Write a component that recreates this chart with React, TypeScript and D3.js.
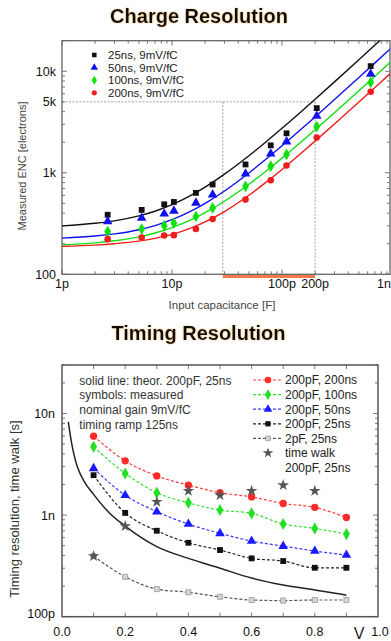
import { useEffect, useRef } from "react"
import * as d3 from "d3"

const FONT = "'Liberation Sans', Arial, Helvetica, sans-serif"

// ---------- Charge resolution ----------
// measured points, capacitance in pF, ENC in electrons
const capMeasured = [2.6, 5.3, 8.5, 10.4, 16.5, 23.4, 46.6, 79, 110, 207, 640]
const enc25ns = [386, 431, 489, 516, 634, 766, 1208, 1862, 2448, 4335, 11230]
const enc50ns = [332, 358, 395, 421, 505, 609, 977, 1542, 2028, 3630, 9400]
const enc100ns = [264, 279, 301, 320, 372, 450, 736, 1162, 1517, 2851, 7780]
const enc200ns = [222, 230, 241, 243, 279, 351, 544, 845, 1180, 2223, 6280]

// fitted curves
const capFit = [1, 2, 3, 5, 7, 10, 15, 20, 30, 50, 70, 100, 150, 200, 300, 500, 700, 1000]
const fit25ns = [300, 318, 336, 376, 418, 485, 602, 722, 969, 1472, 1979, 2744, 4021, 5300, 7859, 12979, 18099, 25780]
const fit50ns = [227, 238, 250, 275, 302, 345, 421, 500, 662, 996, 1334, 1844, 2696, 3550, 5259, 8678, 12098, 17229]
const fit100ns = [195, 204, 214, 234, 255, 288, 345, 404, 524, 770, 1019, 1394, 2022, 2650, 3908, 6425, 8943, 12719]
const fit200ns = [189, 194, 200, 212, 226, 247, 286, 328, 415, 600, 790, 1079, 1564, 2050, 3025, 4976, 6929, 9859]

const chargeLabels = ["25ns, 9mV/fC", "50ns, 9mV/fC", "100ns, 9mV/fC", "200ns, 9mV/fC"]
const encTicks = [100, 1000, 5000, 10000]
const encTickLabels = ["100", "1k", "5k", "10k"]
const capTicks = [1, 10, 100, 200, 1000]
const capTickLabels = ["1p", "10p", "100p", "200p", "1n"]
const refEnc = 5000
const refCap = [29, 200]

// ---------- Timing resolution ----------
// amplitude in V, time in ns
const amplitude = [0.1, 0.2, 0.3, 0.4, 0.5, 0.6, 0.7, 0.8, 0.9]
const t200pF200ns = [5.98, 3.42, 2.43, 1.97, 1.66, 1.51, 1.3, 1.19, 0.949]
const t200pF100ns = [4.7, 2.57, 1.66, 1.32, 1.12, 1.04, 0.816, 0.74, 0.65]
const t200pF50ns = [2.88, 1.57, 1.08, 0.816, 0.661, 0.555, 0.495, 0.443, 0.404]
const t200pF25ns = [2.47, 1.05, 0.701, 0.534, 0.453, 0.375, 0.353, 0.303, 0.303]
const t2pF25ns = [0.395, 0.247, 0.187, 0.174, 0.157, 0.146, 0.144, 0.146, 0.146]
const walkAmplitude = [0.1, 0.2, 0.3, 0.4, 0.5, 0.6, 0.7, 0.8]
const timeWalk = [0.395, 0.78, 1.35, 1.73, 1.57, 1.73, 1.97, 1.73]
const theoryAmplitude = [0.02, 0.03, 0.04, 0.05, 0.07, 0.1, 0.15, 0.2, 0.3, 0.4, 0.5, 0.6, 0.7, 0.8, 0.9]
const theory = [8.27, 5.2, 3.7, 2.9, 2.15, 1.6, 1.05, 0.78, 0.49, 0.375, 0.3, 0.24, 0.205, 0.183, 0.163]

const timingLabels = ["200pF, 200ns", "200pF, 100ns", "200pF, 50ns", "200pF, 25ns", "2pF, 25ns"]
const notes = ["solid line: theor. 200pF, 25ns", "symbols: measured", "nominal gain 9mV/fC", "timing ramp 125ns"]
const ampTicks = [0, 0.2, 0.4, 0.6, 0.8, 1.0]
const ampTickLabels = ["0.0", "0.2", "0.4", "0.6", "0.8", "1.0"]
const timeTicks = [0.1, 1, 10]
const timeTickLabels = ["100p", "1n", "10n"]

const isDecade = (v: number) => Math.abs(Math.log10(v) - Math.round(Math.log10(v))) < 1e-6

const App = () => {
  const svgRef = useRef<SVGSVGElement>(null)

  useEffect(() => {
    const svg = d3.select(svgRef.current)
    svg.selectAll("*").remove()

    const defs = svg.append("defs")
    const glow = defs.append("filter").attr("id", "glow").attr("x", "-5%").attr("y", "-20%").attr("width", "110%").attr("height", "140%")
    glow.append("feDropShadow").attr("dx", 0).attr("dy", 0).attr("stdDeviation", 1).attr("flood-color", "#e0a040").attr("flood-opacity", 0.7)

    // ================= top chart =================
    const x1 = d3.scaleLog().domain([1, 1000]).range([62, 392])
    const y1 = d3.scaleLog().domain([100, 20000]).range([274.3, 40.7])
    const top = { l: 62, r: 390, t: 40.7, b: 274.3 }

    defs.append("clipPath").attr("id", "clipTop").append("rect")
      .attr("x", top.l).attr("y", top.t).attr("width", top.r - top.l).attr("height", top.b - top.t)

    svg.append("text").attr("x", 199).attr("y", 23).attr("text-anchor", "middle")
      .style("font-family", FONT).style("font-weight", "bold").style("font-size", "20px")
      .attr("fill", "#111").attr("filter", "url(#glow)").text("Charge Resolution")

    const g1 = svg.append("g")

    // reference guides
    g1.append("line").attr("x1", top.l).attr("x2", x1(refCap[1])).attr("y1", y1(refEnc)).attr("y2", y1(refEnc))
      .attr("stroke", "#888").attr("stroke-width", 0.8).attr("stroke-dasharray", "2,1.5")
    refCap.forEach((c) => {
      g1.append("line").attr("x1", x1(c)).attr("x2", x1(c)).attr("y1", y1(refEnc)).attr("y2", top.b)
        .attr("stroke", "#888").attr("stroke-width", 0.8).attr("stroke-dasharray", "2,1.5")
    })
    g1.append("line").attr("x1", x1(refCap[0])).attr("x2", x1(refCap[1])).attr("y1", top.b + 2.2).attr("y2", top.b + 2.2)
      .attr("stroke", "#f07a48").attr("stroke-width", 3)

    // ticks
    y1.ticks().forEach((v) => {
      const len = isDecade(v) ? 5 : 3
      const y = y1(v)
      g1.append("line").attr("x1", top.l).attr("x2", top.l + len).attr("y1", y).attr("y2", y).attr("stroke", "#555").attr("stroke-width", 0.8)
      g1.append("line").attr("x1", top.r).attr("x2", top.r - len).attr("y1", y).attr("y2", y).attr("stroke", "#555").attr("stroke-width", 0.8)
    })
    x1.ticks().forEach((v) => {
      const len = isDecade(v) ? 5 : 3
      const x = x1(v)
      if (x > top.r) return
      g1.append("line").attr("x1", x).attr("x2", x).attr("y1", top.b).attr("y2", top.b - len).attr("stroke", "#555").attr("stroke-width", 0.8)
      g1.append("line").attr("x1", x).attr("x2", x).attr("y1", top.t).attr("y2", top.t + len).attr("stroke", "#555").attr("stroke-width", 0.8)
    })

    g1.append("rect").attr("x", top.l).attr("y", top.t).attr("width", top.r - top.l).attr("height", top.b - top.t)
      .attr("fill", "none").attr("stroke", "#666").attr("stroke-width", 1.3)

    const chargeSeries = [
      { color: "#111111", symbol: d3.symbolSquare, size: 34, values: enc25ns, fit: fit25ns },
      { color: "#1010f0", symbol: d3.symbolTriangle, size: 40, values: enc50ns, fit: fit50ns },
      { color: "#10e010", symbol: d3.symbolDiamond, size: 40, values: enc100ns, fit: fit100ns },
      { color: "#f01c1c", symbol: d3.symbolCircle, size: 34, values: enc200ns, fit: fit200ns },
    ]

    const fitLine = d3.line<number>().x((d, i) => x1(capFit[i])).y((d) => y1(d)).curve(d3.curveMonotoneX)
    const curves = g1.append("g").attr("clip-path", "url(#clipTop)")
    chargeSeries.forEach((s) => {
      curves.append("path").attr("d", fitLine(s.fit)).attr("fill", "none").attr("stroke", s.color).attr("stroke-width", 1.4)
    })
    chargeSeries.forEach((s) => {
      g1.append("g").selectAll("path").data(s.values).enter().append("path")
        .attr("transform", (d, i) => `translate(${x1(capMeasured[i])},${y1(d)})`)
        .attr("d", d3.symbol().type(s.symbol).size(s.size)())
        .attr("fill", s.color)
    })

    // legend
    chargeSeries.forEach((s, i) => {
      const y = 55 + i * 12.6
      g1.append("path").attr("transform", `translate(94.3,${y})`).attr("d", d3.symbol().type(s.symbol).size(s.size * 0.6)()).attr("fill", s.color)
      g1.append("text").attr("x", 108).attr("y", y + 4).style("font-family", FONT).style("font-size", "11.5px").attr("fill", "#222").text(chargeLabels[i])
    })

    // tick labels
    encTicks.forEach((v, i) => {
      g1.append("text").attr("x", 56).attr("y", y1(v) + 4.5).attr("text-anchor", "end")
        .style("font-family", FONT).style("font-size", "12.5px").attr("fill", "#111").text(encTickLabels[i])
    })
    capTicks.forEach((v, i) => {
      const last = i === capTicks.length - 1
      g1.append("text").attr("x", last ? 391 : x1(v)).attr("y", 288).attr("text-anchor", last ? "end" : "middle")
        .style("font-family", FONT).style("font-size", "12.5px").attr("fill", "#111").text(capTickLabels[i])
    })
    g1.append("text").attr("x", 222).attr("y", 309).attr("text-anchor", "middle")
      .style("font-family", FONT).style("font-size", "11.5px").attr("fill", "#444").text("Input capacitance [F]")
    g1.append("text").attr("transform", "translate(26,166) rotate(-90)").attr("text-anchor", "middle")
      .style("font-family", FONT).style("font-size", "11px").attr("fill", "#444").text("Measured ENC [electrons]")

    // ================= bottom chart =================
    const x2 = d3.scaleLinear().domain([0, 1]).range([62, 378])
    const y2 = d3.scaleLog().domain([0.1, 30]).range([616.7, 365])
    const bot = { l: 62, r: 378, t: 365, b: 616.7 }

    svg.append("text").attr("x", 198.5).attr("y", 339.5).attr("text-anchor", "middle")
      .style("font-family", FONT).style("font-weight", "bold").style("font-size", "20px")
      .attr("fill", "#111").attr("filter", "url(#glow)").text("Timing Resolution")

    const g2 = svg.append("g")

    y2.ticks().forEach((v) => {
      const len = isDecade(v) ? 5 : 3
      const y = y2(v)
      g2.append("line").attr("x1", bot.l).attr("x2", bot.l + len).attr("y1", y).attr("y2", y).attr("stroke", "#555").attr("stroke-width", 0.8)
      g2.append("line").attr("x1", bot.r).attr("x2", bot.r - len).attr("y1", y).attr("y2", y).attr("stroke", "#555").attr("stroke-width", 0.8)
    })
    d3.range(1, 10).forEach((k) => {
      const x = x2(k / 10)
      g2.append("line").attr("x1", x).attr("x2", x).attr("y1", bot.b).attr("y2", bot.b - 4).attr("stroke", "#555").attr("stroke-width", 0.8)
      g2.append("line").attr("x1", x).attr("x2", x).attr("y1", bot.t).attr("y2", bot.t + 4).attr("stroke", "#555").attr("stroke-width", 0.8)
    })

    g2.append("rect").attr("x", bot.l).attr("y", bot.t).attr("width", bot.r - bot.l).attr("height", bot.b - bot.t)
      .attr("fill", "none").attr("stroke", "#555").attr("stroke-width", 1.5)

    // theory curve
    const theoryLine = d3.line<number>().x((d, i) => x2(theoryAmplitude[i])).y((d) => y2(d)).curve(d3.curveMonotoneX)
    g2.append("path").attr("d", theoryLine(theory)).attr("fill", "none").attr("stroke", "#222").attr("stroke-width", 1.5)

    const timingSeries = [
      { color: "#ff2a2a", line: "#ff3b3b", symbol: d3.symbolCircle, size: 42, stroke: "none", values: t200pF200ns },
      { color: "#22e022", line: "#33e033", symbol: d3.symbolDiamond, size: 42, stroke: "none", values: t200pF100ns },
      { color: "#1a1aff", line: "#3a3aff", symbol: d3.symbolTriangle, size: 40, stroke: "none", values: t200pF50ns },
      { color: "#111111", line: "#222222", symbol: d3.symbolSquare, size: 34, stroke: "none", values: t200pF25ns },
      { color: "#d4d4d4", line: "#555555", symbol: d3.symbolSquare, size: 26, stroke: "#999", values: t2pF25ns },
    ]

    const measLine = d3.line<number>().x((d, i) => x2(amplitude[i])).y((d) => y2(d)).curve(d3.curveMonotoneX)
    timingSeries.forEach((s) => {
      g2.append("path").attr("d", measLine(s.values)).attr("fill", "none").attr("stroke", s.line)
        .attr("stroke-width", 1.2).attr("stroke-dasharray", "3,2")
    })
    timingSeries.forEach((s) => {
      g2.append("g").selectAll("path").data(s.values).enter().append("path")
        .attr("transform", (d, i) => `translate(${x2(amplitude[i])},${y2(d)})`)
        .attr("d", d3.symbol().type(s.symbol).size(s.size)())
        .attr("fill", s.color).attr("stroke", s.stroke).attr("stroke-width", 0.8)
    })
    g2.append("g").selectAll("path").data(timeWalk).enter().append("path")
      .attr("transform", (d, i) => `translate(${x2(walkAmplitude[i])},${y2(d)})`)
      .attr("d", d3.symbol().type(d3.symbolStar).size(42)())
      .attr("fill", "#555")

    // notes
    notes.forEach((t, i) => {
      g2.append("text").attr("x", 79.3).attr("y", 384.5 + i * 14.8).style("font-family", FONT).style("font-size", "12px")
        .attr("fill", "#333").text(t)
    })

    // legend
    timingSeries.forEach((s, i) => {
      const y = 380 + i * 14.6
      g2.append("line").attr("x1", 253).attr("x2", 283).attr("y1", y).attr("y2", y).attr("stroke", s.line)
        .attr("stroke-width", 1.2).attr("stroke-dasharray", "3,2")
      g2.append("path").attr("transform", `translate(268,${y})`).attr("d", d3.symbol().type(s.symbol).size(s.size * 0.8)())
        .attr("fill", s.color).attr("stroke", s.stroke).attr("stroke-width", 0.8)
      g2.append("text").attr("x", 285).attr("y", y + 4.3).style("font-family", FONT).style("font-size", "12px")
        .attr("fill", "#222").text(timingLabels[i])
    })
    g2.append("path").attr("transform", `translate(268,${380 + 5 * 14.6})`).attr("d", d3.symbol().type(d3.symbolStar).size(34)()).attr("fill", "#555")
    g2.append("text").attr("x", 285).attr("y", 380 + 5 * 14.6 + 4.3).style("font-family", FONT).style("font-size", "12px").attr("fill", "#222").text("time walk")
    g2.append("text").attr("x", 285).attr("y", 380 + 6 * 14.6 + 4.3).style("font-family", FONT).style("font-size", "12px").attr("fill", "#222").text("200pF, 25ns")

    // tick labels
    timeTicks.forEach((v, i) => {
      g2.append("text").attr("x", 55).attr("y", y2(v) + 4.5 - (i === 0 ? 3 : 0)).attr("text-anchor", "end")
        .style("font-family", FONT).style("font-size", "12.5px").attr("fill", "#111").text(timeTickLabels[i])
    })
    ampTicks.forEach((v, i) => {
      g2.append("text").attr("x", x2(v) + (i === ampTicks.length - 1 ? 2 : 0)).attr("y", 636).attr("text-anchor", "middle")
        .style("font-family", FONT).style("font-size", "12.5px").attr("fill", "#111").text(ampTickLabels[i])
    })
    g2.append("text").attr("x", 359).attr("y", 639).attr("text-anchor", "middle")
      .style("font-family", FONT).style("font-size", "16px").attr("fill", "#222").text("V")
    g2.append("text").attr("transform", "translate(19,509) rotate(-90)").attr("text-anchor", "middle")
      .style("font-family", FONT).style("font-size", "13px").attr("fill", "#333").text("Timing resolution, time walk [s]")
  }, [])

  return (
    <svg ref={svgRef} width={391} height={641} style={{ position: "absolute", left: 0, top: 0, background: "#fff" }}></svg>
  )
}

export default App
